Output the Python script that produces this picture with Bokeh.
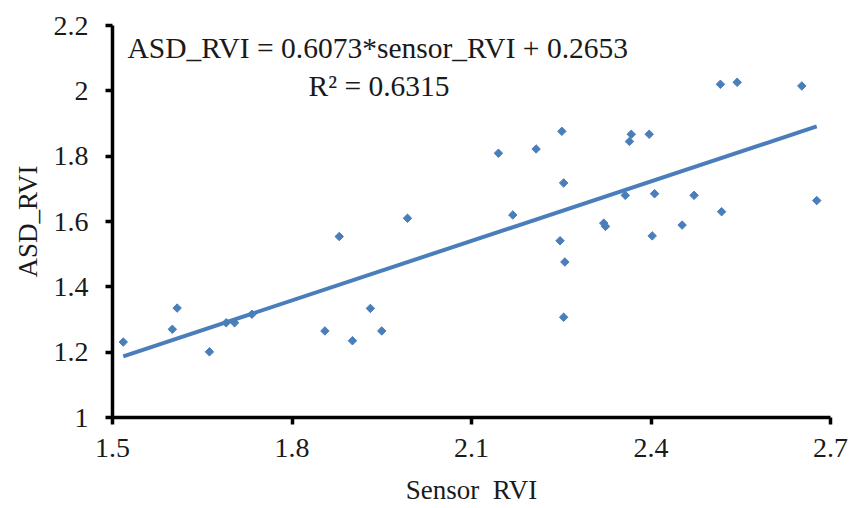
import math
from bokeh.plotting import figure
from bokeh.models import Label, Range1d, FixedTicker
from bokeh.embed import file_html
from bokeh.resources import INLINE

sensor_rvi = [1.518, 1.600, 1.608, 1.662, 1.690, 1.704, 1.733, 1.855, 1.879, 1.901,
              1.931, 1.950, 1.993, 2.145, 2.169, 2.208, 2.251, 2.254, 2.248, 2.256,
              2.254, 2.321, 2.324, 2.357, 2.367, 2.364, 2.397, 2.406, 2.402, 2.452,
              2.472, 2.516, 2.518, 2.544, 2.652, 2.677]
asd_rvi = [1.231, 1.270, 1.335, 1.201, 1.290, 1.290, 1.316, 1.265, 1.554, 1.235,
           1.334, 1.265, 1.610, 1.809, 1.620, 1.822, 1.876, 1.718, 1.541, 1.476,
           1.307, 1.595, 1.585, 1.680, 1.867, 1.845, 1.867, 1.685, 1.556, 1.589,
           1.680, 2.020, 1.630, 2.026, 2.015, 1.664]

slope = 0.6073
intercept = 0.2653
r_squared = 0.6315

x_ticks = [1.5, 1.8, 2.1, 2.4, 2.7]
y_ticks = [1.0, 1.2, 1.4, 1.6, 1.8, 2.0, 2.2]

FONT = "Liberation Serif"
BLUE = "#4A7EBB"
TEXT = "#1a1a1a"

p = figure(width=850, height=508, output_backend="svg", toolbar_location=None,
           x_range=Range1d(1.5, 2.7), y_range=Range1d(1.0, 2.2),
           min_border_left=112, min_border_right=20, min_border_top=25, min_border_bottom=91)
p.outline_line_color = None
p.grid.visible = False
p.background_fill_color = "white"

for ax in (p.xaxis[0], p.yaxis[0]):
    ax.axis_line_width = 3.5
    ax.axis_line_color = "black"
    ax.major_tick_line_width = 3.5
    ax.major_tick_line_color = "black"
    ax.major_tick_out = 7
    ax.major_tick_in = 0
    ax.minor_tick_line_color = None
    ax.major_label_text_font = FONT
    ax.major_label_text_font_size = "28px"
    ax.major_label_text_color = TEXT
    ax.axis_label_text_font = FONT
    ax.axis_label_text_font_size = "27px"
    ax.axis_label_text_font_style = "normal"
    ax.axis_label_text_color = TEXT

p.xaxis.ticker = FixedTicker(ticks=x_ticks)
p.yaxis.ticker = FixedTicker(ticks=y_ticks)
p.xaxis.major_label_overrides = {1.5: "1.5", 1.8: "1.8", 2.1: "2.1", 2.4: "2.4", 2.7: "2.7"}
p.yaxis.major_label_overrides = {1.0: "1", 1.2: "1.2", 1.4: "1.4", 1.6: "1.6", 1.8: "1.8", 2.0: "2", 2.2: "2.2"}
p.xaxis.axis_label = "Sensor \u00a0RVI"
p.yaxis.axis_label = "ASD_RVI"
p.xaxis.major_label_standoff = 14
p.yaxis.major_label_standoff = 17
p.xaxis.axis_label_standoff = 15
p.yaxis.axis_label_standoff = 8

xmin, xmax = min(sensor_rvi), max(sensor_rvi)
p.line([xmin, xmax], [slope * xmin + intercept, slope * xmax + intercept],
       line_color=BLUE, line_width=4)
p.scatter(sensor_rvi, asd_rvi, marker="square", angle=math.pi / 4, size=6,
          fill_color=BLUE, line_color=BLUE, line_width=1)

p.add_layout(Label(x=1.525, y=2.13, text=f"ASD_RVI = {slope}*sensor_RVI + {intercept}",
                   text_font=FONT, text_font_size="29.5px", text_baseline="middle",
                   text_color=TEXT))
p.add_layout(Label(x=1.8276, y=2.016, text=f"R² = {r_squared}",
                   text_font=FONT, text_font_size="29.5px", text_baseline="middle",
                   text_color=TEXT))

open("out.html", "w").write(file_html(p, INLINE))
